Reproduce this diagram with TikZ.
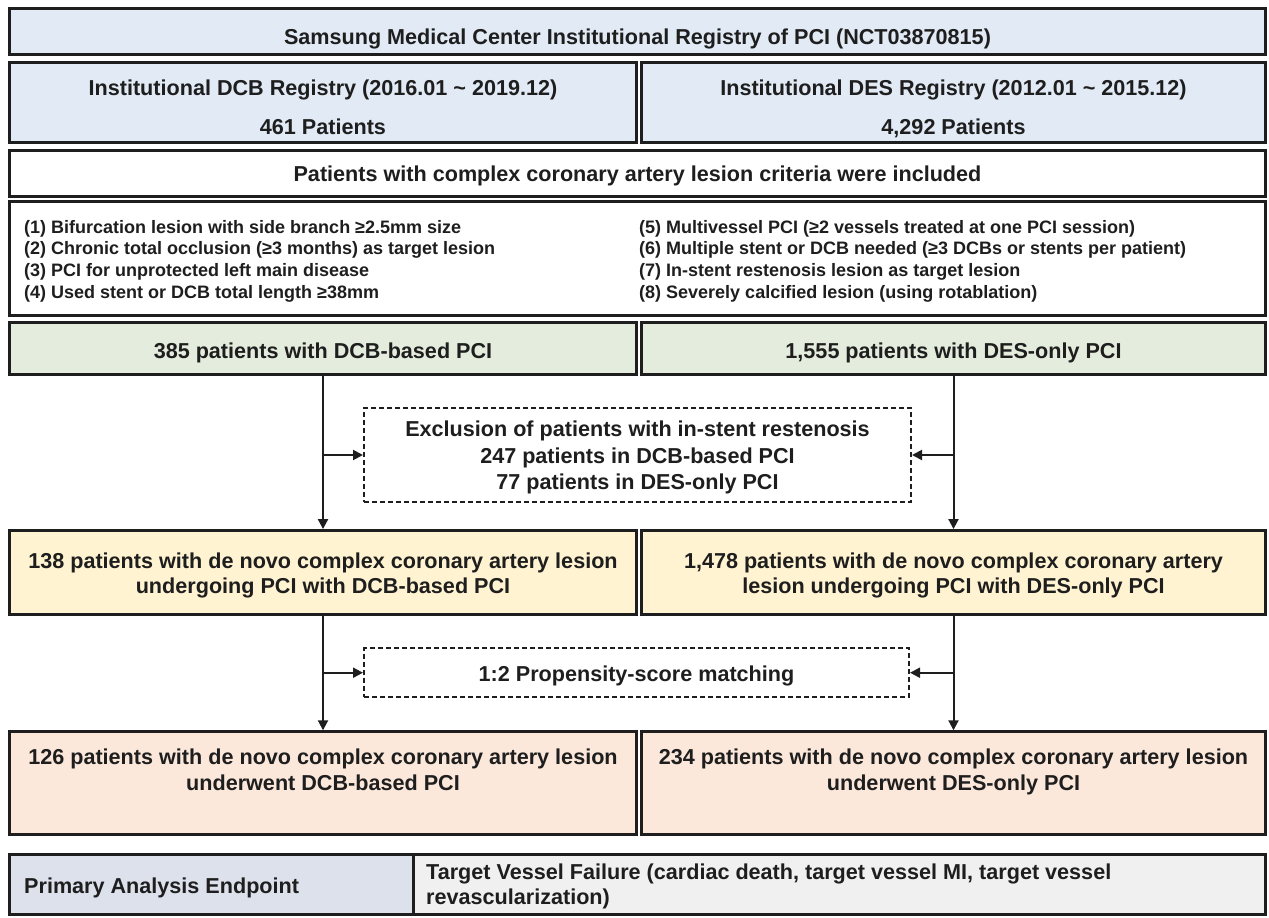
\documentclass[tikz,border=0pt]{standalone}
\usepackage{fontspec}
\setmainfont{Liberation Sans}
\usetikzlibrary{arrows.meta}
\definecolor{cblue}{HTML}{E1EAF5}
\definecolor{cgreen}{HTML}{E4EDDD}
\definecolor{cyellow}{HTML}{FFF3D1}
\definecolor{cpink}{HTML}{FBE8DB}
\definecolor{cend}{HTML}{DDE1EC}
\definecolor{cgray}{HTML}{F0F0F0}
\definecolor{ink}{HTML}{1E1E1E}
\begin{document}
\begin{tikzpicture}[x=1pt,y=-1pt,
  box/.style={draw=ink, line width=3pt, inner sep=0pt},
  dbox/.style={draw=ink, line width=2pt, dash pattern=on 5pt off 3pt, inner sep=0pt, fill=white},
  txt/.style={inner sep=0pt, text=ink, align=center, anchor=base,
    font=\bfseries\fontsize{21.6}{25}\selectfont},
  flow/.style={draw=ink, line width=2pt, -{Triangle[length=10pt,width=10pt]}}
]
\useasboundingbox (0,0) rectangle (1269,918);

% boxes
\node[box, fill=cblue, minimum width=1256pt, minimum height=45.7pt] (title) at (637.5,31.7) {};
\node[box, fill=cblue, minimum width=627pt, minimum height=80pt] (regL) at (323,102.5) {};
\node[box, fill=cblue, minimum width=624pt, minimum height=80pt] (regR) at (953.5,102.5) {};
\node[box, fill=white, minimum width=1256pt, minimum height=46.3pt] (crithead) at (637.5,173.7) {};
\node[box, fill=white, minimum width=1256pt, minimum height=113.7pt] (crit) at (637.5,258.3) {};
\node[box, fill=cgreen, minimum width=627pt, minimum height=52pt] (greenL) at (323,348.2) {};
\node[box, fill=cgreen, minimum width=624pt, minimum height=52pt] (greenR) at (953.5,348.2) {};
\node[dbox, minimum width=547pt, minimum height=94pt] (excl) at (637.5,455) {};
\node[box, fill=cyellow, minimum width=627pt, minimum height=84.3pt] (yelL) at (323,572.7) {};
\node[box, fill=cyellow, minimum width=624pt, minimum height=84.3pt] (yelR) at (953.5,572.7) {};
\node[dbox, minimum width=545pt, minimum height=48.7pt] (prop) at (636.5,672.7) {};
\node[box, fill=cpink, minimum width=627pt, minimum height=103pt] (pinkL) at (323,783.3) {};
\node[box, fill=cpink, minimum width=624pt, minimum height=103pt] (pinkR) at (953.5,783.3) {};
\node[box, fill=cend, minimum width=403.5pt, minimum height=60pt] (endL) at (211.25,884.5) {};
\node[box, fill=cgray, minimum width=852.5pt, minimum height=60pt] (endR) at (839.25,884.5) {};

% texts (anchor base = baseline of the last line)
\node[txt] (titleT) at (637.5,44.3)
  {Samsung Medical Center Institutional Registry of PCI (NCT03870815)};
\node[txt, font=\bfseries\fontsize{21.6}{39}\selectfont] (regLT) at (323,134)
  {Institutional DCB Registry (2016.01 \textasciitilde{} 2019.12)\\461 Patients};
\node[txt, font=\bfseries\fontsize{21.6}{39}\selectfont] (regRT) at (953.5,134)
  {Institutional DES Registry (2012.01 \textasciitilde{} 2015.12)\\4,292 Patients};
\node[txt] (critheadT) at (637.5,181.7)
  {Patients with complex coronary artery lesion criteria were included};
\node[txt, anchor=base west, align=left, font=\bfseries\fontsize{18}{21.7}\selectfont] (critL) at (24,298.3)
  {(1) Bifurcation lesion with side branch ≥2.5mm size\\
   (2) Chronic total occlusion (≥3 months) as target lesion\\
   (3) PCI for unprotected left main disease\\
   (4) Used stent or DCB total length ≥38mm};
\node[txt, anchor=base west, align=left, font=\bfseries\fontsize{18}{21.7}\selectfont] (critR) at (639,298.3)
  {(5) Multivessel PCI (≥2 vessels treated at one PCI session)\\
   (6) Multiple stent or DCB needed (≥3 DCBs or stents per patient)\\
   (7) In-stent restenosis lesion as target lesion\\
   (8) Severely calcified lesion (using rotablation)};
\node[txt] (greenLT) at (323,358.3) {385 patients with DCB-based PCI};
\node[txt] (greenRT) at (953.5,358.3) {1,555 patients with DES-only PCI};
\node[txt, font=\bfseries\fontsize{21.6}{26.3}\selectfont] (exclT) at (637.5,489.3)
  {Exclusion of patients with in-stent restenosis\\247 patients in DCB-based PCI\\77 patients in DES-only PCI};
\node[txt, font=\bfseries\fontsize{21.6}{24.3}\selectfont] (yelLT) at (323,593)
  {138 patients with de novo complex coronary artery lesion\\undergoing PCI with DCB-based PCI};
\node[txt, font=\bfseries\fontsize{21.6}{24.3}\selectfont] (yelRT) at (953.5,593)
  {1,478 patients with de novo complex coronary artery\\lesion undergoing PCI with DES-only PCI};
\node[txt] (propT) at (636.5,681.5) {1:2 Propensity-score matching};
\node[txt, font=\bfseries\fontsize{21.6}{26}\selectfont] (pinkLT) at (323,790.7)
  {126 patients with de novo complex coronary artery lesion\\underwent DCB-based PCI};
\node[txt, font=\bfseries\fontsize{21.6}{26}\selectfont] (pinkRT) at (953.5,790.7)
  {234 patients with de novo complex coronary artery lesion\\underwent DES-only PCI};
\node[txt, anchor=base west, align=left] (endLT) at (24,893) {Primary Analysis Endpoint};
\node[txt, anchor=base west, align=left] (endRT) at (426,904.7)
  {Target Vessel Failure (cardiac death, target vessel MI, target vessel\\revascularization)};

% connectors
\draw[flow] (greenL.south) -- (yelL.north);
\draw[flow] (greenR.south) -- (yelR.north);
\draw[flow] (greenL.south |- excl.west) -- (excl.west);
\draw[flow] (greenR.south |- excl.east) -- (excl.east);
\draw[flow] (yelL.south) -- (pinkL.north);
\draw[flow] (yelR.south) -- (pinkR.north);
\draw[flow] (yelL.south |- prop.west) -- (prop.west);
\draw[flow] (yelR.south |- prop.east) -- (prop.east);
\end{tikzpicture}
\end{document}
